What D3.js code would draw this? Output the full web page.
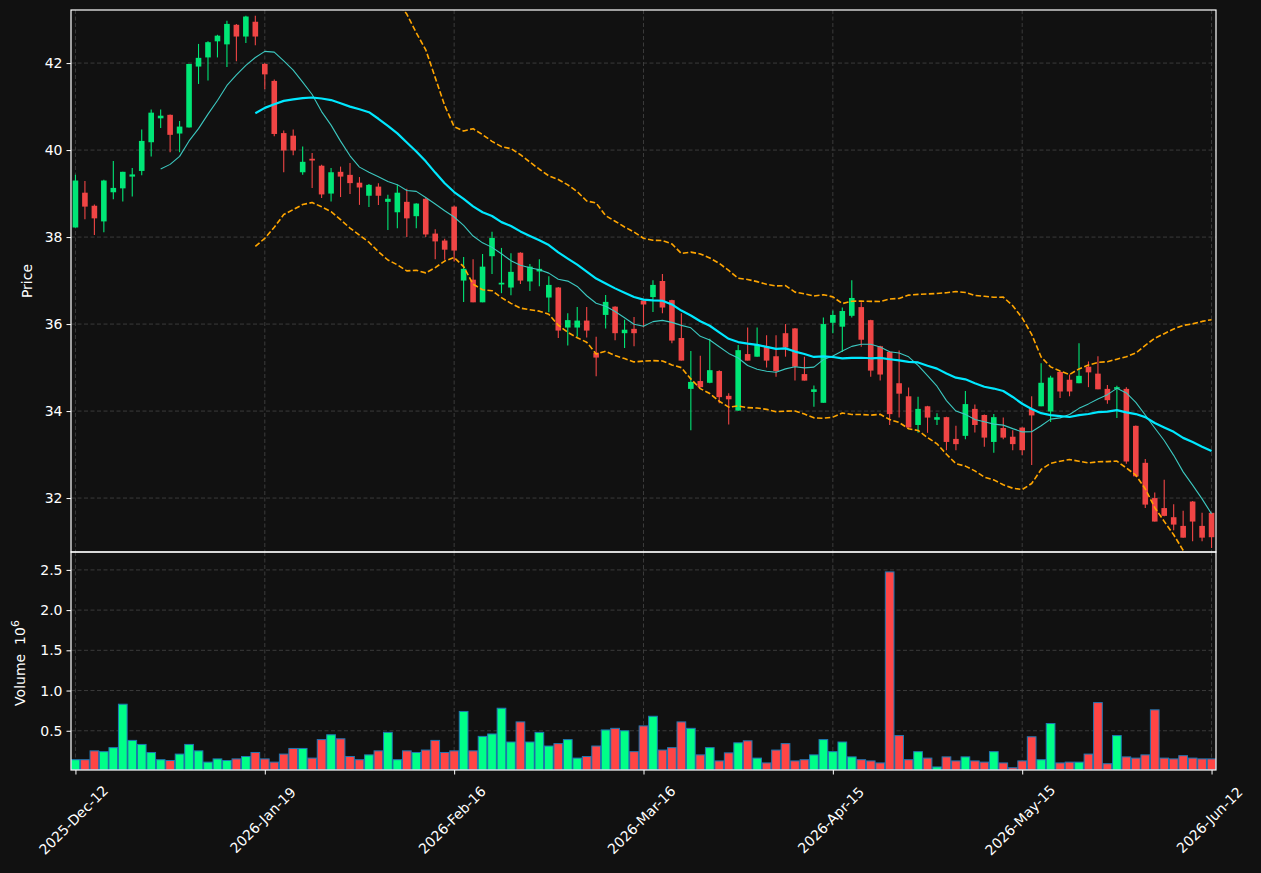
<!DOCTYPE html>
<html>
<head>
<meta charset="utf-8">
<script src="https://cdn.jsdelivr.net/npm/d3@7"></script>
<style>
  html, body { margin: 0; padding: 0; background: #111111; }
  svg { display: block; }
  text { font-family: "DejaVu Sans", sans-serif; }
</style>
</head>
<body>
<svg id="chart" width="1261" height="873"></svg>
<script>
// ---------------- DATA ----------------
const tickIndices = [0, 20, 40, 60, 80, 100, 120];
const tickLabels = ["2025-Dec-12", "2026-Jan-19", "2026-Feb-16", "2026-Mar-16", "2026-Apr-15", "2026-May-15", "2026-Jun-12"];

const opens = [
  38.22, 39.02, 38.72, 38.36, 39.03, 39.12, 39.39, 39.52, 40.18, 40.73,
  40.81, 40.38, 40.52, 41.92, 42.13, 42.50, 42.43, 42.88, 42.61, 42.95,
  41.98, 41.59, 40.39, 40.33, 39.49, 39.80, 39.64, 39.00, 39.50, 39.43,
  39.25, 38.95, 39.16, 38.81, 38.57, 38.81, 38.48, 38.88, 38.08, 37.92,
  38.70, 37.00, 37.02, 36.50, 37.56, 36.91, 36.84, 37.64, 36.98, 37.21,
  36.61, 36.84, 35.92, 35.92, 36.08, 35.34, 36.21, 36.40, 35.79, 35.89,
  36.54, 36.62, 36.99, 36.55, 35.68, 34.51, 34.69, 34.65, 34.92, 34.35,
  34.01, 35.31, 35.25, 35.48, 35.26, 35.79, 35.90, 34.85, 34.44, 34.19,
  36.03, 35.94, 36.19, 36.39, 36.09, 35.49, 35.36, 34.64, 34.34, 33.68,
  34.11, 33.80, 33.86, 33.36, 33.43, 34.05, 33.91, 33.29, 33.61, 33.41,
  33.62, 34.05, 34.11, 33.99, 34.90, 34.72, 34.64, 35.02, 34.86, 34.51,
  34.51, 34.51, 33.66, 32.81, 32.00, 31.77, 31.56, 31.36, 31.92, 31.36, 31.66
];
const highs = [
  39.43, 39.29, 38.75, 39.32, 39.75, 39.50, 39.59, 40.47, 40.93, 40.93,
  40.82, 40.67, 41.98, 42.44, 42.50, 42.65, 42.97, 42.90, 43.09, 43.09,
  42.00, 41.62, 40.45, 40.47, 40.08, 39.93, 39.66, 39.59, 39.62, 39.70,
  39.38, 39.22, 39.24, 38.97, 39.20, 39.11, 38.78, 38.90, 38.18, 37.96,
  38.72, 37.54, 37.49, 37.61, 38.12, 37.75, 37.63, 37.65, 37.38, 37.49,
  37.10, 36.85, 36.25, 36.39, 36.39, 35.71, 36.67, 36.41, 36.10, 36.16,
  36.55, 37.01, 37.15, 36.56, 36.25, 35.38, 35.27, 35.66, 34.94, 34.41,
  35.52, 35.92, 35.92, 35.74, 35.74, 36.00, 35.91, 35.25, 34.59, 36.15,
  36.31, 36.38, 37.01, 36.50, 36.10, 35.50, 35.38, 35.39, 34.54, 34.33,
  34.12, 33.95, 33.87, 33.66, 34.46, 34.15, 33.92, 33.93, 33.85, 33.56,
  33.63, 34.34, 35.10, 34.81, 34.91, 34.84, 35.56, 35.14, 35.26, 34.60,
  34.58, 34.55, 33.67, 32.90, 32.13, 32.42, 31.86, 31.71, 31.93, 31.66, 31.66
];
const lows = [
  38.22, 38.41, 38.05, 38.11, 38.87, 38.82, 38.93, 39.42, 39.85, 40.51,
  39.95, 39.95, 40.52, 41.52, 41.60, 42.13, 41.91, 42.04, 42.46, 42.41,
  41.40, 40.32, 39.49, 39.88, 39.43, 39.13, 38.90, 38.82, 38.92, 38.99,
  38.74, 38.69, 38.74, 38.16, 38.20, 38.00, 38.20, 38.00, 37.49, 37.48,
  37.44, 36.51, 36.50, 36.50, 37.15, 36.71, 36.66, 36.92, 36.76, 36.87,
  36.27, 35.68, 35.51, 35.71, 35.69, 34.80, 35.90, 35.63, 35.45, 35.49,
  35.92, 36.28, 36.25, 35.56, 35.16, 33.56, 34.55, 34.64, 34.18, 33.69,
  34.01, 35.16, 35.25, 35.00, 34.79, 35.25, 34.70, 34.70, 34.10, 34.19,
  35.79, 35.36, 36.15, 35.48, 34.79, 34.70, 33.68, 33.85, 33.62, 33.50,
  33.50, 33.68, 33.10, 33.10, 33.35, 33.51, 33.18, 33.04, 33.35, 33.10,
  32.99, 32.76, 34.11, 33.75, 34.30, 34.34, 34.64, 34.55, 34.50, 34.17,
  33.84, 32.79, 32.49, 31.77, 31.46, 31.58, 31.26, 31.09, 31.01, 31.01, 30.85
];
const closes = [
  39.30, 38.70, 38.43, 39.30, 39.13, 39.50, 39.44, 40.21, 40.86, 40.79,
  40.35, 40.54, 41.98, 42.12, 42.48, 42.63, 42.90, 42.61, 43.07, 42.61,
  41.74, 40.37, 39.99, 39.99, 39.73, 39.76, 38.98, 39.49, 39.39, 39.24,
  39.14, 39.20, 38.95, 38.88, 39.02, 38.43, 38.77, 38.06, 37.90, 37.71,
  37.69, 37.27, 36.50, 37.32, 37.98, 36.95, 37.20, 37.00, 37.32, 37.27,
  36.90, 35.85, 36.09, 36.08, 35.85, 35.23, 36.51, 35.79, 35.87, 35.79,
  36.45, 36.90, 36.38, 35.62, 35.16, 34.67, 34.55, 34.94, 34.32, 34.27,
  35.40, 35.16, 35.52, 35.16, 34.92, 35.46, 35.02, 34.70, 34.50, 36.00,
  36.21, 36.30, 36.60, 35.64, 34.93, 34.84, 33.93, 34.40, 33.62, 34.05,
  33.85, 33.86, 33.29, 33.24, 34.16, 33.68, 33.39, 33.86, 33.39, 33.24,
  33.10, 33.90, 34.65, 34.77, 34.45, 34.45, 34.81, 34.89, 34.50, 34.25,
  34.55, 32.84, 32.50, 31.85, 31.46, 31.59, 31.39, 31.09, 31.46, 31.09, 31.10
];
// volume in millions (axis shows 10^6)
const volumes = [
  0.14, 0.14, 0.25, 0.24, 0.29, 0.83, 0.38, 0.33, 0.23, 0.14,
  0.13, 0.21, 0.33, 0.25, 0.11, 0.15, 0.13, 0.15, 0.18, 0.23,
  0.15, 0.11, 0.21, 0.28, 0.28, 0.16, 0.39, 0.45, 0.40, 0.18,
  0.14, 0.20, 0.25, 0.48, 0.14, 0.25, 0.23, 0.26, 0.38, 0.23,
  0.25, 0.74, 0.25, 0.43, 0.46, 0.78, 0.36, 0.61, 0.36, 0.48,
  0.31, 0.34, 0.39, 0.16, 0.18, 0.31, 0.51, 0.53, 0.50, 0.24,
  0.56, 0.68, 0.26, 0.29, 0.61, 0.53, 0.20, 0.29, 0.125, 0.225,
  0.35, 0.375, 0.16, 0.10, 0.26, 0.34, 0.125, 0.14, 0.20, 0.39,
  0.24, 0.36, 0.175, 0.14, 0.125, 0.10, 2.475, 0.44, 0.14, 0.24,
  0.16, 0.05, 0.175, 0.125, 0.175, 0.125, 0.11, 0.24, 0.10, 0.04,
  0.125, 0.425, 0.14, 0.59, 0.10, 0.11, 0.11, 0.21, 0.85, 0.09,
  0.44, 0.175, 0.16, 0.20, 0.76, 0.16, 0.15, 0.19, 0.16, 0.15, 0.15
];
const priceTicks = [32, 34, 36, 38, 40, 42];
const volumeTicks = [0.5, 1.0, 1.5, 2.0, 2.5];
const maShort = 10, maLong = 20, bbStd = 2;

// ---------------- LAYOUT ----------------
const L = 71, R = 1216, mainTop = 10, mainBot = 552, volTop = 552, volBot = 770;
const upC = "#00e676", downC = "#f04545", volUp = "#00ff88", volDown = "#ff4545";
const svg = d3.select("#chart");
const n = closes.length;
const idx = d3.range(n);

const x = d3.scaleLinear().domain([-0.47, n - 1 + 0.47]).range([L, R]);
const yP = d3.scaleLinear().domain([30.76, 43.22]).range([mainBot, mainTop]);
const yV = d3.scaleLinear().domain([0.3 * d3.min(volumes), 1.1 * d3.max(volumes)]).range([volBot, volTop]);
const pitch = x(1) - x(0);

svg.append("rect").attr("width", 1261).attr("height", 873).attr("fill", "#111111");

const defs = svg.append("defs");
defs.append("clipPath").attr("id", "clipMain").append("rect")
  .attr("x", L).attr("y", mainTop).attr("width", R - L).attr("height", mainBot - mainTop);
defs.append("clipPath").attr("id", "clipVol").append("rect")
  .attr("x", L).attr("y", volTop).attr("width", R - L).attr("height", volBot - volTop);

// grids
const gridC = "#404040";
function grid(yScale, ticks, top, bot) {
  const g = svg.append("g");
  g.selectAll(".h").data(ticks).join("line")
    .attr("x1", L).attr("x2", R)
    .attr("y1", d => yScale(d)).attr("y2", d => yScale(d))
    .attr("stroke", gridC).attr("stroke-width", 0.9).attr("stroke-dasharray", "4,2.5");
  g.selectAll(".v").data(tickIndices).join("line")
    .attr("x1", d => x(d)).attr("x2", d => x(d))
    .attr("y1", top).attr("y2", bot)
    .attr("stroke", gridC).attr("stroke-width", 0.9).attr("stroke-dasharray", "4,2.5");
}
grid(yP, priceTicks, mainTop, mainBot);
grid(yV, volumeTicks, volTop, volBot);

// candles
const cg = svg.append("g").attr("clip-path", "url(#clipMain)");
const bodyW = 5.6;
cg.selectAll(".wick").data(idx).join("line")
  .attr("x1", i => x(i)).attr("x2", i => x(i))
  .attr("y1", i => yP(highs[i])).attr("y2", i => yP(lows[i]))
  .attr("stroke", i => closes[i] >= opens[i] ? upC : downC).attr("stroke-width", 1.1);
cg.selectAll(".body").data(idx).join("rect")
  .attr("x", i => x(i) - bodyW / 2).attr("width", bodyW)
  .attr("y", i => yP(Math.max(opens[i], closes[i])))
  .attr("height", i => Math.max(1.2, Math.abs(yP(opens[i]) - yP(closes[i]))))
  .attr("fill", i => closes[i] >= opens[i] ? upC : downC);

// moving averages and bollinger bands derived from closes
function rolling(win, fn) {
  return idx.map(i => i < win - 1 ? null : fn(closes.slice(i - win + 1, i + 1)));
}
const ma10 = rolling(maShort, a => d3.mean(a));
const ma20 = rolling(maLong, a => d3.mean(a));
const sd20 = rolling(maLong, a => { const m = d3.mean(a); return Math.sqrt(d3.mean(a, v => (v - m) * (v - m))); });
const bbUp = idx.map(i => ma20[i] == null ? null : ma20[i] + bbStd * sd20[i]);
const bbLo = idx.map(i => ma20[i] == null ? null : ma20[i] - bbStd * sd20[i]);

function drawLine(arr, color, w, dash) {
  const line = d3.line().defined(i => arr[i] != null).x(i => x(i)).y(i => yP(arr[i]));
  const p = cg.append("path").datum(idx).attr("d", line)
    .attr("fill", "none").attr("stroke", color).attr("stroke-width", w)
    .attr("stroke-linejoin", "round");
  if (dash) p.attr("stroke-dasharray", dash);
}
drawLine(ma10, "#3cc8c0", 1.1);
drawLine(ma20, "#00e8ff", 2.2);
drawLine(bbUp, "#ffa500", 1.6, "5.5,2.4");
drawLine(bbLo, "#ffa500", 1.6, "5.5,2.4");

// volume bars
const vg = svg.append("g").attr("clip-path", "url(#clipVol)");
const barW = pitch * 0.92;
vg.selectAll("rect").data(idx).join("rect")
  .attr("x", i => x(i) - barW / 2).attr("width", barW)
  .attr("y", i => yV(volumes[i]))
  .attr("height", i => yV.range()[0] - yV(volumes[i]))
  .attr("fill", i => closes[i] >= opens[i] ? volUp : volDown)
  .attr("stroke", "#1f77b4").attr("stroke-width", 1);

// frames
const frameC = "#ffffff";
svg.append("rect").attr("x", L).attr("y", mainTop).attr("width", R - L).attr("height", mainBot - mainTop)
  .attr("fill", "none").attr("stroke", frameC).attr("stroke-width", 1.2);
svg.append("rect").attr("x", L).attr("y", volTop).attr("width", R - L).attr("height", volBot - volTop)
  .attr("fill", "none").attr("stroke", frameC).attr("stroke-width", 1.2);

// axes
function styleAxis(g) {
  g.select(".domain").remove();
  g.selectAll(".tick line").attr("stroke", "#ffffff").attr("stroke-width", 1);
  g.selectAll(".tick text").attr("fill", "#ffffff").style("font-size", "14px")
    .style("font-family", "DejaVu Sans, sans-serif");
}
svg.append("g").attr("transform", `translate(${L},0)`)
  .call(d3.axisLeft(yP).tickValues(priceTicks).tickFormat(d3.format("d")).tickSize(4.5).tickPadding(4))
  .call(styleAxis);
svg.append("g").attr("transform", `translate(${L},0)`)
  .call(d3.axisLeft(yV).tickValues(volumeTicks).tickFormat(d3.format(".1f")).tickSize(4.5).tickPadding(4))
  .call(styleAxis);
const xa = svg.append("g").attr("transform", `translate(0,${volBot})`)
  .call(d3.axisBottom(x).tickValues(tickIndices).tickFormat(() => "").tickSize(4.5));
styleAxis(xa);

// x tick labels rotated 45deg, bbox centred on tick
svg.append("g").selectAll("text").data(tickIndices).join("text")
  .attr("transform", d => `translate(${x(d) - 2},${820}) rotate(-45)`)
  .attr("text-anchor", "middle").attr("dominant-baseline", "central")
  .attr("fill", "#ffffff").style("font-size", "14px")
  .text((d, i) => tickLabels[i]);

// y labels
svg.append("text").attr("transform", `translate(27,${(mainTop + mainBot) / 2}) rotate(-90)`)
  .attr("text-anchor", "middle").attr("dominant-baseline", "central")
  .attr("fill", "#ffffff").style("font-size", "14px").text("Price");
const vl = svg.append("text").attr("transform", `translate(20,${(volTop + volBot) / 2 + 2}) rotate(-90)`)
  .attr("text-anchor", "middle").attr("dominant-baseline", "central")
  .attr("fill", "#ffffff").style("font-size", "14px");
vl.append("tspan").text("Volume\u00a0\u00a010");
vl.append("tspan").attr("dy", "-0.45em").style("font-size", "11px").text("6");
</script>
</body>
</html>
